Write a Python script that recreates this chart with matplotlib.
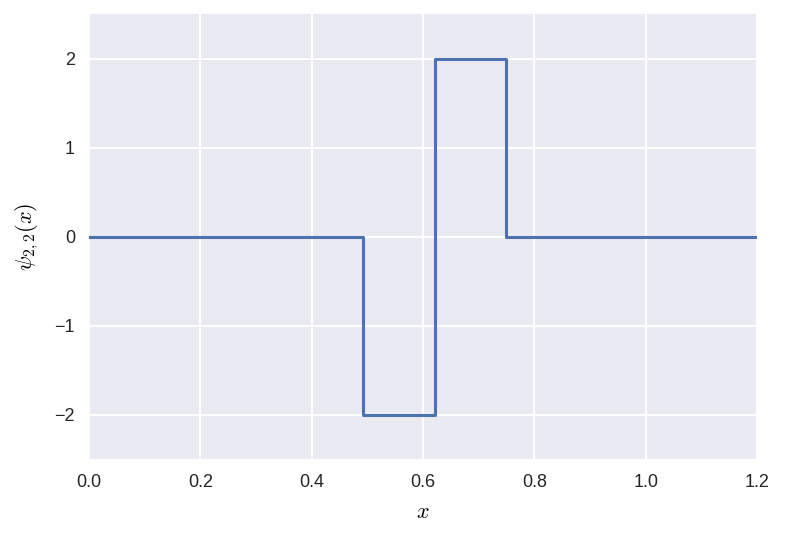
import numpy as np
import matplotlib
matplotlib.use("Agg")
import matplotlib.pyplot as plt

# breakpoints of the Haar wavelet psi_{2,2}
x_edges = [0.0, 0.492, 0.622, 0.749, 1.2]
psi_vals = [0, -2, 2, 0, 0]

x_ticks = [0.0, 0.2, 0.4, 0.6, 0.8, 1.0, 1.2]
y_ticks = [-2, -1, 0, 1, 2]

plt.rcParams['font.family'] = ['Liberation Sans', 'DejaVu Sans']
plt.rcParams['mathtext.fontset'] = 'cm'

fig = plt.figure(figsize=(7.86, 5.38), dpi=100)
ax = fig.add_axes([89/786, 1 - 459/538, (757-89)/786, (459-14)/538])
ax.set_facecolor('#EAEAF2')
for s in ax.spines.values():
    s.set_visible(False)
ax.grid(True, color='white', linewidth=1.4)
ax.set_axisbelow(True)

ax.plot(x_edges, psi_vals, drawstyle='steps-post', color='#4C72B0', linewidth=2.2)

ax.set_xlim(0, 1.2)
ax.set_ylim(-2.5, 2.5)
ax.set_xticks(x_ticks)
ax.set_yticks(y_ticks)
ax.set_xticklabels(['%.1f' % v for v in x_ticks])
ax.set_yticklabels(['\u2212%d' % -v if v < 0 else '%d' % v for v in y_ticks])
ax.tick_params(length=0, labelsize=13, colors='#262626')
ax.tick_params(axis='x', pad=11)
ax.tick_params(axis='y', pad=10)
ax.set_xlabel('$x$', fontsize=16, labelpad=8)
ax.set_ylabel('$\\psi_{2,2}(x)$', fontsize=16, labelpad=10)

fig.savefig('out.png', dpi=100)
